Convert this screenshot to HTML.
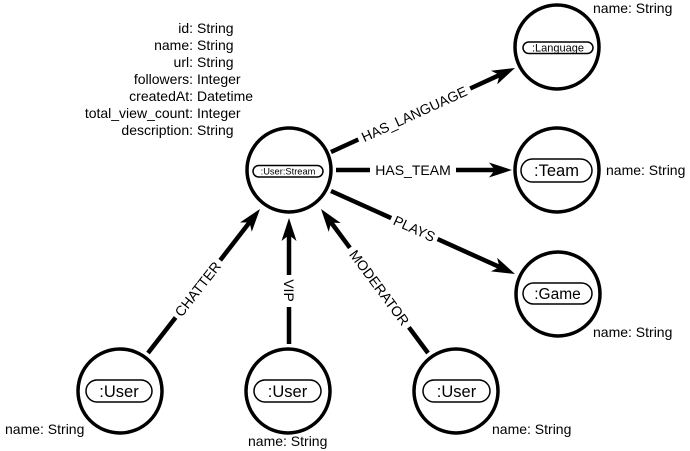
<!DOCTYPE html>
<html>
<head>
<meta charset="utf-8">
<style>
  html, body { margin: 0; padding: 0; background: #ffffff; }
  svg { display: block; }
  text { font-family: "Liberation Sans", Arial, sans-serif; fill: #000; }
</style>
</head>
<body>
<svg width="690" height="451" viewBox="0 0 690 451" xmlns="http://www.w3.org/2000/svg">
  <defs>
    <path id="ah" d="M0,0 L-23,-7.5 L-17,0 L-23,7.5 Z" fill="#000"/>
  </defs>

  <!-- property list -->
  <g font-size="14">
    <text x="193" y="33" text-anchor="end">id:</text><text x="197" y="33">String</text>
    <text x="193" y="50" text-anchor="end">name:</text><text x="197" y="50">String</text>
    <text x="193" y="67" text-anchor="end">url:</text><text x="197" y="67">String</text>
    <text x="193" y="84" text-anchor="end">followers:</text><text x="197" y="84">Integer</text>
    <text x="193" y="101" text-anchor="end">createdAt:</text><text x="197" y="101">Datetime</text>
    <text x="193" y="118" text-anchor="end">total_view_count:</text><text x="197" y="118">Integer</text>
    <text x="193" y="135" text-anchor="end">description:</text><text x="197" y="135">String</text>
  </g>

  <!-- edges -->
  <g stroke="#000" stroke-width="4.5" fill="none" stroke-linecap="butt">
    <!-- HAS_LANGUAGE -->
    <line x1="331" y1="152" x2="358.3" y2="139.5"/>
    <line x1="470.2" y1="88.5" x2="500" y2="74.8"/>
    <!-- HAS_TEAM -->
    <line x1="336" y1="170" x2="370" y2="170"/>
    <line x1="456" y1="170" x2="495" y2="170"/>
    <!-- PLAYS -->
    <line x1="331" y1="191" x2="391.2" y2="218.1"/>
    <line x1="437.6" y1="239.1" x2="500" y2="267.2"/>
    <!-- CHATTER -->
    <line x1="148" y1="353" x2="175.6" y2="317.5"/>
    <line x1="220.2" y1="260.2" x2="250" y2="221.8"/>
    <!-- VIP -->
    <line x1="289" y1="344" x2="289" y2="307"/>
    <line x1="289" y1="275" x2="289" y2="235"/>
    <!-- MODERATOR -->
    <line x1="428" y1="353" x2="408.9" y2="327.3"/>
    <line x1="349.9" y1="247.8" x2="330.8" y2="222"/>
  </g>

  <!-- arrowheads -->
  <use href="#ah" transform="translate(515,68) rotate(-24.54)"/>
  <use href="#ah" transform="translate(512,170)"/>
  <use href="#ah" transform="translate(515,274) rotate(24.28)"/>
  <use href="#ah" transform="translate(260,209) rotate(-52.1)"/>
  <use href="#ah" transform="translate(289,218) rotate(-90)"/>
  <use href="#ah" transform="translate(321,209) rotate(-126.6)"/>

  <!-- edge labels -->
  <g font-size="14" text-anchor="middle">
    <text transform="translate(414.2,114) rotate(-24.54)" dy="5">HAS_LANGUAGE</text>
    <text x="413" y="175">HAS_TEAM</text>
    <text transform="translate(414.4,228.6) rotate(24.28)" dy="5">PLAYS</text>
    <text transform="translate(197.7,289) rotate(-52.1)" dy="5">CHATTER</text>
    <text transform="translate(289,290.5) rotate(90)" dy="5">VIP</text>
    <text transform="translate(379.4,287.6) rotate(53.4)" dy="5">MODERATOR</text>
  </g>

  <!-- nodes -->
  <g stroke="#000" stroke-width="3.5" fill="#fff">
    <circle cx="289" cy="170" r="42"/>
    <circle cx="557" cy="47" r="42"/>
    <circle cx="557" cy="170" r="42"/>
    <circle cx="558" cy="294" r="42"/>
    <circle cx="120" cy="391" r="42"/>
    <circle cx="288" cy="391" r="42"/>
    <circle cx="456" cy="391" r="42"/>
  </g>

  <!-- pills -->
  <g stroke="#000" stroke-width="1.5" fill="#fff">
    <rect x="253" y="165.5" width="70" height="11.5" rx="5.75"/>
    <rect x="523" y="42" width="70" height="11.5" rx="5.75"/>
    <rect x="521" y="159" width="71" height="23" rx="11.5"/>
    <rect x="523" y="283" width="69" height="21" rx="10.5"/>
    <rect x="86" y="380" width="66" height="22" rx="11"/>
    <rect x="254" y="380" width="67" height="22" rx="11"/>
    <rect x="423" y="380" width="67" height="22" rx="11"/>
  </g>

  <g text-anchor="middle">
    <text x="288" y="174.5" font-size="9.3">:User:Stream</text>
    <text x="558" y="51.5" font-size="11">:Language</text>
    <text x="556.5" y="176" font-size="16.5">:Team</text>
    <text x="557.5" y="299" font-size="15.5">:Game</text>
    <text x="119" y="397" font-size="16.5">:User</text>
    <text x="287.5" y="397" font-size="16.5">:User</text>
    <text x="456.5" y="397" font-size="16.5">:User</text>
  </g>

  <!-- node property labels -->
  <g font-size="14">
    <text x="593" y="13">name: String</text>
    <text x="606" y="175">name: String</text>
    <text x="593" y="337">name: String</text>
    <text x="5" y="434">name: String</text>
    <text x="248" y="446">name: String</text>
    <text x="492" y="434">name: String</text>
  </g>
</svg>
</body>
</html>
